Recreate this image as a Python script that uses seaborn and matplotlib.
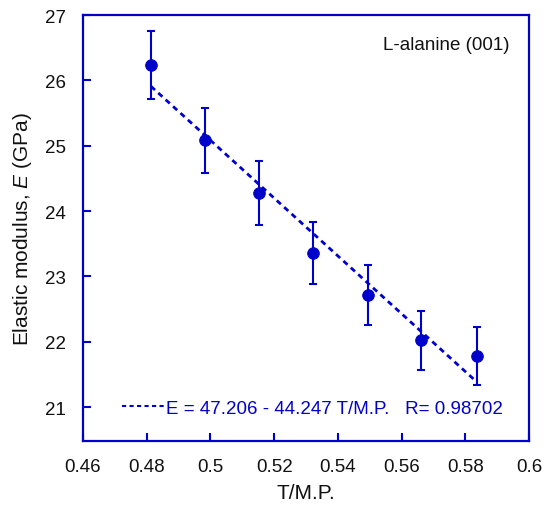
import numpy as np
import pandas as pd
import seaborn as sns
import matplotlib.pyplot as plt
from matplotlib.lines import Line2D

# data
t_mp = [0.4813, 0.4983, 0.5152, 0.5322, 0.5495, 0.5661, 0.5837]
modulus = [26.23, 25.08, 24.28, 23.36, 22.71, 22.02, 21.78]
err = [0.52, 0.50, 0.49, 0.47, 0.46, 0.45, 0.45]
fit_a, fit_b = 47.206, -44.247
fit_r = 0.98702
xticks = [0.46, 0.48, 0.50, 0.52, 0.54, 0.56, 0.58, 0.60]
xtick_labels = ["0.46", "0.48", "0.5", "0.52", "0.54", "0.56", "0.58", "0.6"]
yticks = [21, 22, 23, 24, 25, 26, 27]

blue = "#0000CC"

sns.set_style("white")
plt.rcParams["font.family"] = ["Liberation Sans", "DejaVu Sans"]
plt.rcParams["mathtext.fontset"] = "custom"
plt.rcParams["mathtext.it"] = "Liberation Sans:italic"

df = pd.DataFrame({"T/M.P.": t_mp, "E": modulus, "err": err})
fit_x = np.array([min(t_mp), max(t_mp)])
fit_df = pd.DataFrame({"T/M.P.": fit_x, "E": fit_a + fit_b * fit_x})

fig = plt.figure(figsize=(5.46, 5.10), dpi=100)
ax = fig.add_axes([0.152, 0.1333, 0.817, 0.8353])

sns.lineplot(data=fit_df, x="T/M.P.", y="E", ax=ax, color=blue,
             linestyle=(0, (2, 1.6)), linewidth=2)
ax.errorbar(df["T/M.P."], df["E"], yerr=df["err"], fmt="none",
            ecolor=blue, elinewidth=1.5, capsize=2.8, capthick=1.5)
sns.scatterplot(data=df, x="T/M.P.", y="E", ax=ax, color=blue, s=70,
                edgecolor=blue, zorder=3)

ax.set_xlim(0.46, 0.60)
ax.set_ylim(20.48, 27)
ax.set_xticks(xticks)
ax.set_xticklabels(xtick_labels)
ax.set_yticks(yticks)
ax.tick_params(direction="in", length=6, width=1.5, color=blue,
               labelsize=13.5, labelcolor="#111111", pad=12,
               bottom=True, left=True, top=False, right=False)
for sp in ax.spines.values():
    sp.set_color(blue)
    sp.set_linewidth(1.6)

ax.set_xlabel("T/M.P.", fontsize=15, labelpad=6, color="#111111")
ax.set_ylabel("Elastic modulus, $E$ (GPa)", fontsize=15, labelpad=8,
              color="#111111")

ax.text(0.955, 0.93, "L-alanine (001)", transform=ax.transAxes,
        ha="right", va="center", fontsize=13.5, color="#111111")

handle = Line2D([], [], color=blue, linestyle=(0, (2, 1.6)), linewidth=1.5)
leg = ax.legend([handle], [f"E = {fit_a:.3f} - {abs(fit_b):.3f} T/M.P.   R= {fit_r:.5f}"],
                loc="center", bbox_to_anchor=(0.515, 0.077), frameon=False,
                fontsize=13.5, handlelength=2.2, handletextpad=0.15)
for txt in leg.get_texts():
    txt.set_color(blue)

fig.savefig("out.png", dpi=100)
